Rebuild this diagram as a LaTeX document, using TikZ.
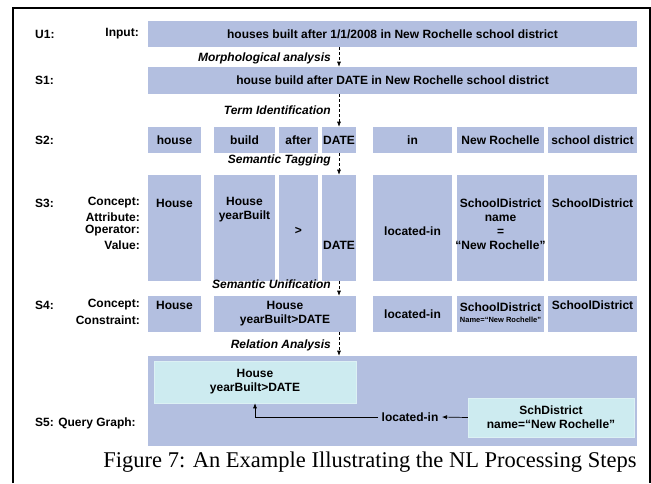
\documentclass[tikz,border=0pt]{standalone}
\usepackage{fontspec}
\setmainfont{Liberation Serif}
\setsansfont{Liberation Sans}
\usetikzlibrary{positioning,arrows.meta,calc}
\definecolor{CellBlue}{HTML}{B3BFE0}
\definecolor{GraphCyan}{HTML}{CDEBF0}

\begin{document}
\begin{tikzpicture}[
  x=1pt,y=-1pt,
  font=\sffamily\bfseries\fontsize{12}{14}\selectfont,
  >=Latex,
  cell/.style={fill=CellBlue,inner sep=0pt,align=center},
  gbox/.style={fill=GraphCyan,draw=GraphCyan!70!white,inner sep=0pt,align=center},
  rowlabel/.style={anchor=west,inner sep=0pt},
  fieldlabel/.style={anchor=east,inner sep=0pt},
  phase/.style={anchor=east,inner sep=0pt,font=\sffamily\bfseries\itshape\fontsize{12}{14}\selectfont},
  phaseflow/.style={-{Latex[length=1.8mm,width=1.4mm]},dashed,dash pattern=on 3pt off 2pt,line width=0.7pt},
  link/.style={-{Latex[length=1.8mm,width=1.4mm]},line width=0.7pt}
]
\useasboundingbox (0,0) rectangle (651,483);
\draw[line width=1.2pt] (13,483) -- (13,8) -- (650,8) -- (650,483);

% U1 and S1
\node[rowlabel] (lu1) at (35,34) {U1:};
\node[fieldlabel] (linput) at (139,34) {Input:};
\node[cell,minimum width=489,minimum height=26] (u1) at (392.5,34)
  {houses built after 1/1/2008 in New Rochelle school district};
\node[rowlabel] (ls1) at (35,80) {S1:};
\node[cell,minimum width=489,minimum height=27] (s1) at (392.5,80.5)
  {house build after DATE in New Rochelle school district};

% S2: terms
\node[rowlabel] (ls2) at (35,140) {S2:};
\foreach \nm/\cx/\w/\txt in {house/174.5/53/house, build/244.5/61/build,
  after/298.5/39/after, date/339/34/DATE, in/412.5/79/in,
  city/500.5/87/New Rochelle, district/592.5/89/school district} {
  \node[cell,minimum width=\w,minimum height=26] (s2\nm) at (\cx,140) {\txt};
}

% S3: tagged terms
\node[rowlabel] (ls3) at (35,203) {S3:};
\foreach \lab [count=\k from 0] in {Concept:,Attribute:,Operator:,Value:} {
  \node[fieldlabel] (lf\k) at (140,{203+14*\k}) {\lab};
}
\foreach \nm/\cx/\w in {house/174.5/53, build/244.5/61, after/298.5/39,
  date/339/34, in/412.5/79, city/500.5/87, district/592.5/89} {
  \node[cell,minimum width=\w,minimum height=106] (s3\nm) at (\cx,228) {};
}
\node (t3house) at (174.5,203) {House};
\node[align=center] (t3build) at (244.5,210) {House\\yearBuilt};
\node (t3after) at (298.5,231) {>};
\node (t3date) at (339,245) {DATE};
\node (t3in) at (412.5,231) {located-in};
\node[align=center] (t3city) at (500.5,224) {SchoolDistrict\\name\\=\\“New Rochelle”};
\node (t3district) at (592.5,203) {SchoolDistrict};

% S4: unified concepts
\node[rowlabel] (ls4) at (35,305) {S4:};
\node[fieldlabel] (lconcept) at (140,305) {Concept:};
\node[fieldlabel] (lconstraint) at (140,320) {Constraint:};
\node[cell,minimum width=53,minimum height=36] (s4house) at (174.5,314) {};
\node[cell,minimum width=142,minimum height=36] (s4build) at (285,314) {House\\yearBuilt>DATE};
\node[cell,minimum width=79,minimum height=36] (s4in) at (412.5,314) {located-in};
\node[cell,minimum width=87,minimum height=36] (s4city) at (500.5,314) {};
\node[cell,minimum width=89,minimum height=36] (s4district) at (592.5,314) {};
\node (t4house) at (174.5,305) {House};
\node (t4city) at (500.5,307) {SchoolDistrict};
\node[font=\sffamily\bfseries\fontsize{7.5}{9}\selectfont] (t4name) at (500.5,320)
  {Name=“New Rochelle”};
\node (t4district) at (592.5,305) {SchoolDistrict};

% S5: query graph
\node[rowlabel] (ls5) at (35,423) {S5: Query Graph:};
\node[cell,minimum width=489,minimum height=90] (s5) at (392.5,401) {};
\node[gbox,minimum width=202,minimum height=42] (qhouse) at (255,382)
  {House\\yearBuilt>DATE};
\node[gbox,minimum width=166,minimum height=39] (qdistrict) at (551,417.5)
  {SchDistrict\\name=“New Rochelle”};
\node (qrel) at (410,417) {located-in};
\draw[link] (qdistrict.west) -- (qrel.east);
\draw[link] (qrel.west) -| (qhouse.south);

% processing steps
\node[phase] (pmorph) at (331,58) {Morphological analysis};
\node[phase] (pterm) at (331,110) {Term Identification};
\node[phase] (ptag) at (331,160) {Semantic Tagging};
\node[phase] (punify) at (331,284) {Semantic Unification};
\node[phase] (prel) at (331,345) {Relation Analysis};
\draw[phaseflow] (u1.south -| s2date) -- (s1.north -| s2date);
\draw[phaseflow] (s1.south -| s2date) -- (s2date.north);
\draw[phaseflow] (s2date.south) -- (s3date.north);
\draw[phaseflow] (s3date.south) -- (s4build.north -| s3date);
\draw[phaseflow] (s4build.south -| s3date) -- (s5.north -| s3date);

\node[font=\rmfamily\fontsize{22.5}{26}\selectfont] (caption) at (370,462)
  {Figure 7: An Example Illustrating the NL Processing Steps};
\end{tikzpicture}
\end{document}
